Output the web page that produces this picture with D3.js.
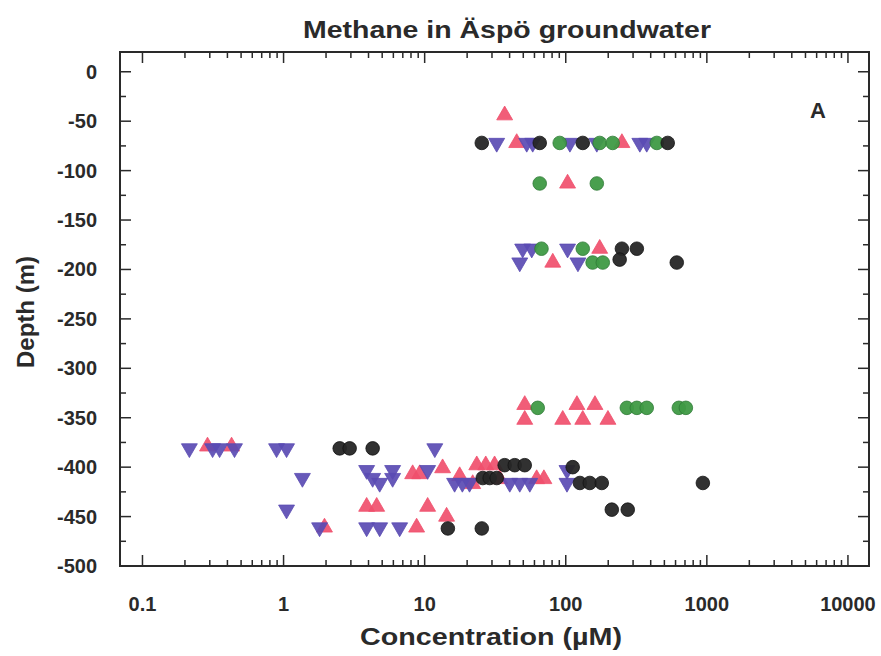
<!DOCTYPE html>
<html><head><meta charset="utf-8">
<script src="https://cdn.jsdelivr.net/npm/d3@7"></script>
<style>body{margin:0;background:#fff}svg text{font-family:"Liberation Sans",Arial,sans-serif;font-weight:bold;fill:#2a2a2a}</style>
</head><body><svg id="c" width="881" height="656"></svg>
<script>
// ---- data ----
const concTickValues = [0.1, 1, 10, 100, 1000, 10000];
const concTickLabels = ["0.1", "1", "10", "100", "1000", "10000"];
const depthTickValues = [0, -50, -100, -150, -200, -250, -300, -350, -400, -450, -500];
const depthTickLabels = ["0", "-50", "-100", "-150", "-200", "-250", "-300", "-350", "-400", "-450", "-500"];

const pinkConc  = [36.9, 44.9, 250, 103, 174, 80.9, 51.2, 120, 161, 51.2, 95.2, 132, 199, 0.289, 0.428, 8.22, 9.22, 13.4, 23.4, 27.1, 31.3, 17.7, 21.9, 34.0, 62.2, 70, 3.88, 4.57, 10.5, 14.3, 1.95, 8.77];
const pinkDepth = [-44, -72, -72, -113, -179, -193, -337, -337, -337, -352, -352, -352, -352, -379, -379, -407, -407, -401, -398, -398, -398, -409, -417, -412, -412, -412, -440, -440, -440, -450, -461, -461];

const blueConc  = [32.4, 52.9, 58.3, 107, 166, 335, 375, 49.5, 57.4, 103, 47.2, 122, 0.215, 0.314, 0.352, 0.449, 0.892, 1.05, 11.8, 3.88, 5.93, 10.5, 102, 1.36, 4.28, 5.93, 4.80, 16.3, 18.5, 20.8, 40.1, 47.2, 55.6, 102, 1.05, 1.80, 3.88, 4.80, 6.65];
const blueDepth = [-72, -72, -72, -72, -72, -72, -72, -179, -179, -179, -193, -193, -381, -381, -381, -381, -381, -381, -381, -403, -403, -403, -403, -411, -411, -411, -416, -416, -416, -416, -416, -416, -416, -416, -443, -461, -461, -461, -461];

const greenConc  = [90.6, 174, 215, 442, 65.4, 166, 67.3, 132, 155, 183, 63.3, 271, 319, 375, 633, 710];
const greenDepth = [-72, -72, -72, -72, -113, -113, -179, -179, -193, -193, -340, -340, -340, -340, -340, -340];

const blackConc  = [25.4, 65.4, 132, 528, 250, 319, 241, 612, 2.50, 2.94, 4.28, 36.9, 43.5, 51.2, 25.8, 28.9, 32.4, 112, 126, 148, 180, 937, 212, 275, 14.6, 25.4];
const blackDepth = [-72, -72, -72, -72, -179, -179, -190, -193, -381, -381, -381, -398, -398, -398, -411, -411, -411, -400, -416, -416, -416, -416, -443, -443, -462, -462];

// ---- chart ----
const svg = d3.select("#c");
const L = 120, R = 869, T = 52, B = 566;
const x = d3.scaleLog().domain([0.0693, 14100]).range([L, R]);
const y = d3.scaleLinear().domain([-500, 20]).range([B, T]);

// frame
svg.append("rect").attr("x", L).attr("y", T).attr("width", R - L).attr("height", B - T)
  .attr("fill", "none").attr("stroke", "#2a2a2a").attr("stroke-width", 2);

// minor log ticks
const minorX = [];
for (let d = 0.1; d < 10000; d *= 10) for (let k = 2; k <= 9; k++) minorX.push(d * k);
const minorY = [];
for (let v = -475; v <= 0; v += 50) minorY.push(v);

const tickG = svg.append("g").attr("stroke", "#2a2a2a").attr("stroke-width", 1.5);
function xTicks(vals, len) {
  vals.forEach(v => {
    tickG.append("line").attr("x1", x(v)).attr("x2", x(v)).attr("y1", B).attr("y2", B - len);
    tickG.append("line").attr("x1", x(v)).attr("x2", x(v)).attr("y1", T).attr("y2", T + len);
  });
}
function yTicks(vals, len) {
  vals.forEach(v => {
    tickG.append("line").attr("y1", y(v)).attr("y2", y(v)).attr("x1", L).attr("x2", L + len);
    tickG.append("line").attr("y1", y(v)).attr("y2", y(v)).attr("x1", R).attr("x2", R - len);
  });
}
xTicks(concTickValues, 11);
xTicks(minorX, 6);
yTicks(depthTickValues, 11);
yTicks(minorY, 6);

// tick labels
svg.append("g").selectAll("text").data(concTickValues).join("text")
  .attr("x", d => x(d)).attr("y", 611).attr("text-anchor", "middle")
  .attr("font-size", 20).text((d, i) => concTickLabels[i]);
svg.append("g").selectAll("text").data(depthTickValues).join("text")
  .attr("x", 97).attr("y", d => y(d) + 7).attr("text-anchor", "end")
  .attr("font-size", 20).text((d, i) => depthTickLabels[i]);

// titles
svg.append("text").attr("x", 507).attr("y", 38).attr("text-anchor", "middle")
  .attr("font-size", 24).attr("textLength", 408).attr("lengthAdjust", "spacingAndGlyphs")
  .text("Methane in Äspö groundwater");
svg.append("text").attr("x", 491).attr("y", 645).attr("text-anchor", "middle")
  .attr("font-size", 24).attr("textLength", 262).attr("lengthAdjust", "spacingAndGlyphs")
  .text("Concentration (µM)");
svg.append("text").attr("transform", "translate(34,312) rotate(-90)").attr("text-anchor", "middle")
  .attr("font-size", 24).text("Depth (m)");
svg.append("text").attr("x", 818).attr("y", 118).attr("text-anchor", "middle")
  .attr("font-size", 22).text("A");

// marks
const tri = d3.symbol().type(d3.symbolTriangle).size(110);
function triangles(cs, ds, color, down) {
  svg.append("g").selectAll("path").data(cs).join("path")
    .attr("d", tri)
    .attr("transform", (d, i) => `translate(${x(d)},${y(ds[i])}) rotate(${down ? 180 : 0})`)
    .attr("fill", color).attr("stroke", color).attr("stroke-width", 0.8).attr("fill-opacity", 0.92);
}
function circles(cs, ds, color, stroke) {
  svg.append("g").selectAll("circle").data(cs).join("circle")
    .attr("cx", d => x(d)).attr("cy", (d, i) => y(ds[i])).attr("r", 6.8)
    .attr("fill", color).attr("stroke", stroke).attr("stroke-width", 0.8).attr("fill-opacity", 0.95);
}
triangles(pinkConc, pinkDepth, "#f04f6c", false);
triangles(blueConc, blueDepth, "#5a4bb3", true);
circles(greenConc, greenDepth, "#3f9a45", "#2f7a36");
circles(blackConc, blackDepth, "#262626", "#111");
</script></body></html>
